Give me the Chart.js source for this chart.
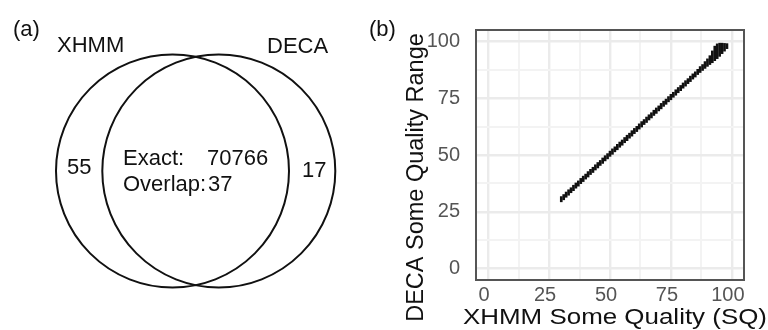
<!DOCTYPE html>
<html>
<head>
<meta charset="utf-8">
<script src="https://cdn.jsdelivr.net/npm/chart.js@4.4.1/dist/chart.umd.min.js"></script>
<style>
  html, body { margin: 0; padding: 0; background: #fff; }
  #wrap { position: relative; width: 768px; height: 330px; overflow: hidden; }
  #venn { position: absolute; left: 0; top: 0; }
  #scatter { position: absolute; left: 360px; top: 0; }
</style>
</head>
<body>
<div id="wrap">
  <canvas id="venn" width="360" height="330"></canvas>
  <canvas id="scatter" width="408" height="330"></canvas>
</div>
<script>
// (a) venn counts
const vennSets = ["XHMM", "DECA"];
const onlyXhmm = 55;
const onlyDeca = 17;
const exactCount = 70766;
const overlapCount = 37;

// (b) XHMM SQ vs range of DECA SQ
const xhmmSQ = [30, 31, 32, 33, 34, 35, 36, 37, 38, 39, 40, 41, 42, 43, 44, 45, 46, 47, 48, 49,
  50, 51, 52, 53, 54, 55, 56, 57, 58, 59, 60, 61, 62, 63, 64, 65, 66, 67, 68, 69,
  70, 71, 72, 73, 74, 75, 76, 77, 78, 79, 80, 81, 82, 83, 84, 85, 86, 87, 88, 89,
  90, 91, 92, 93, 94, 95, 96, 97, 98];
const decaLow = [29.4, 30.3, 31.4, 32.3, 33.4, 34.3, 35.4, 36.3, 37.4, 38.3, 39.4, 40.3, 41.4, 42.3, 43.4, 44.3, 45.4, 46.3, 47.4, 48.3,
  49.4, 50.3, 51.4, 52.3, 53.4, 54.3, 55.4, 56.3, 57.4, 58.3, 59.4, 60.3, 61.4, 62.3, 63.4, 64.3, 65.4, 66.3, 67.4, 68.3,
  69.4, 70.3, 71.4, 72.3, 73.4, 74.3, 75.4, 76.3, 77.4, 78.3, 79.4, 80.3, 81.4, 82.3, 83.4, 84.3, 85.4, 86.3, 87.2, 88.1,
  89.0, 89.8, 90.6, 91.5, 92.4, 93.4, 94.6, 95.7, 96.8];
const decaHigh = [31.7, 32.6, 33.7, 34.7, 35.6, 36.7, 37.7, 38.6, 39.7, 40.7, 41.6, 42.7, 43.7, 44.6, 45.7, 46.7, 47.6, 48.7, 49.7, 50.6,
  51.7, 52.7, 53.6, 54.7, 55.7, 56.6, 57.7, 58.7, 59.6, 60.7, 61.7, 62.6, 63.7, 64.7, 65.6, 66.7, 67.7, 68.6, 69.7, 70.7,
  71.6, 72.7, 73.7, 74.6, 75.7, 76.7, 77.6, 78.7, 79.7, 80.6, 81.7, 82.7, 83.6, 84.7, 85.7, 86.6, 87.7, 88.9, 89.8, 91.1,
  92.3, 93.7, 95.8, 97.9, 98.9, 99.2, 99.2, 99.1, 99.0];
const majorTicks = [0, 25, 50, 75, 100];
const minorTicks = [12.5, 37.5, 62.5, 87.5];

const FONT = "'Liberation Sans', Arial, Helvetica, sans-serif";

// venn layout, the hidden scales run in canvas pixels
const circleX = [172.5, 218.8];
const circleY = 171;
const circleR = 116.5;

const vennText = {
  id: "vennText",
  afterDraw(chart) {
    const { ctx, scales } = chart;
    const px = v => scales.x.getPixelForValue(v);
    const py = v => scales.y.getPixelForValue(v);
    ctx.save();
    ctx.fillStyle = "#111";
    ctx.textAlign = "left";
    ctx.textBaseline = "alphabetic";
    ctx.font = "22px " + FONT;
    ctx.fillText("(a)", px(13), py(36));
    ctx.fillText(vennSets[0], px(57), py(52));
    ctx.fillText(vennSets[1], px(267), py(53));
    ctx.fillText(String(onlyXhmm), px(67), py(174));
    ctx.fillText("Exact:", px(123), py(165));
    ctx.fillText(String(exactCount), px(207), py(165));
    ctx.fillText("Overlap:", px(123), py(191));
    ctx.fillText(String(overlapCount), px(208), py(191));
    ctx.fillText(String(onlyDeca), px(302), py(177));
    ctx.restore();
  }
};

new Chart(document.getElementById("venn"), {
  type: "bubble",
  data: {
    datasets: [{
      data: circleX.map(x => ({ x: x, y: circleY, r: circleR })),
      backgroundColor: "rgba(0,0,0,0)",
      borderColor: "#111",
      borderWidth: 2,
      clip: false
    }]
  },
  options: {
    responsive: false,
    animation: false,
    events: [],
    layout: { padding: 0, autoPadding: false },
    plugins: { legend: { display: false }, tooltip: { enabled: false } },
    scales: {
      x: { type: "linear", min: 0, max: 360, display: false },
      y: { type: "linear", min: 0, max: 330, reverse: true, display: false }
    }
  },
  plugins: [vennText]
});

// frame + titles for panel (b)
const panelB = {
  id: "panelB",
  afterDatasetsDraw(chart) {
    const { ctx, chartArea: a } = chart;
    ctx.save();
    ctx.strokeStyle = "#555";
    ctx.lineWidth = 2;
    ctx.strokeRect(a.left, a.top, a.right - a.left, a.bottom - a.top);
    ctx.restore();
  },
  afterDraw(chart) {
    const ctx = chart.ctx;
    ctx.save();
    ctx.fillStyle = "#111";
    ctx.textBaseline = "alphabetic";
    ctx.font = "22px " + FONT;
    ctx.textAlign = "left";
    ctx.fillText("(b)", 9, 36);

    // y title
    ctx.font = "23.5px " + FONT;
    ctx.textAlign = "center";
    ctx.save();
    ctx.translate(63, 177.5);
    ctx.rotate(-Math.PI / 2);
    ctx.fillText("DECA Some Quality Range", 0, 0);
    ctx.restore();

    // x title, stretched to the width in the figure
    ctx.font = "22.5px " + FONT;
    const label = "XHMM Some Quality (SQ)";
    const w = ctx.measureText(label).width;
    ctx.save();
    ctx.translate(255, 324);
    ctx.scale(304 / w, 1);
    ctx.fillText(label, 0, 0);
    ctx.restore();
    ctx.restore();
  }
};

const allTicks = majorTicks.concat(minorTicks).sort((a, b) => a - b);
function gridOpts() {
  return {
    offset: false,
    drawTicks: false,
    color: c => majorTicks.includes(c.tick.value) ? "#ebebeb" : "#f3f3f3",
    lineWidth: c => majorTicks.includes(c.tick.value) ? 2.4 : 2
  };
}

new Chart(document.getElementById("scatter"), {
  type: "bar",
  data: {
    datasets: [{
      data: xhmmSQ.map((x, i) => ({ x: x, y: [decaLow[i], decaHigh[i]] })),
      backgroundColor: "#111",
      borderWidth: 0,
      barThickness: 2
    }]
  },
  options: {
    responsive: false,
    animation: false,
    events: [],
    layout: { padding: { left: 0, top: 30, right: 24, bottom: 0 } },
    plugins: { legend: { display: false }, tooltip: { enabled: false } },
    scales: {
      x: {
        type: "linear",
        min: -5,
        max: 105,
        offset: false,
        afterFit: s => { s.height = 50; },
        afterBuildTicks: s => { s.ticks = allTicks.map(v => ({ value: v })); },
        grid: gridOpts(),
        border: { display: false },
        ticks: {
          autoSkip: false,
          maxRotation: 0,
          padding: 3,
          labelOffset: -4,
          color: "#555",
          font: { family: FONT, size: 20 },
          callback: v => majorTicks.includes(v) ? String(v) : ""
        }
      },
      y: {
        type: "linear",
        min: -5,
        max: 105,
        afterFit: s => { s.width = 116; },
        afterBuildTicks: s => { s.ticks = allTicks.map(v => ({ value: v })); },
        grid: gridOpts(),
        border: { display: false },
        ticks: {
          autoSkip: false,
          padding: 16,
          color: "#555",
          font: { family: FONT, size: 20 },
          callback: v => majorTicks.includes(v) ? String(v) : ""
        }
      }
    }
  },
  plugins: [panelB]
});
</script>
</body>
</html>
